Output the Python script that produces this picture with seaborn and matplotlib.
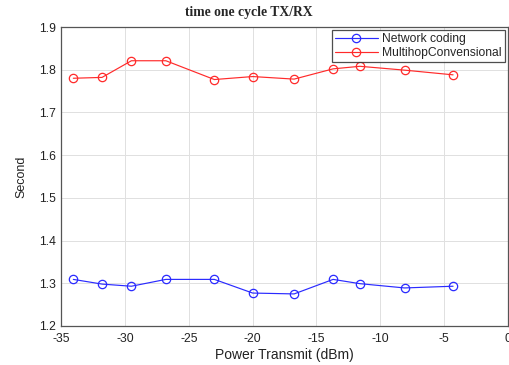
import matplotlib
matplotlib.use("Agg")
import matplotlib.pyplot as plt
import seaborn as sns
import pandas as pd

power = [-34.05, -31.8, -29.5, -26.8, -23.0, -20.0, -16.75, -13.7, -11.6, -8.1, -4.3]
network_coding = [1.309, 1.298, 1.293, 1.309, 1.309, 1.277, 1.275, 1.309, 1.299, 1.289, 1.293]
multihop = [1.780, 1.782, 1.821, 1.821, 1.777, 1.784, 1.778, 1.802, 1.808, 1.799, 1.788]
series_names = ["Network coding", "MultihopConvensional"]
colors = ["#2a2aff", "#ff2a2a"]

sns.set_theme(style="whitegrid")
plt.rcParams['font.family'] = ['Liberation Sans', 'DejaVu Sans']

fig = plt.figure(figsize=(5.1, 3.65), dpi=100)
ax = fig.add_axes([0.12, 0.107, 0.876, 0.819])

for vals, name, c in zip([network_coding, multihop], series_names, colors):
    df = pd.DataFrame({"x": power, "y": vals})
    sns.lineplot(data=df, x="x", y="y", ax=ax, color=c, lw=0.85, marker="o",
                 markersize=6, markerfacecolor="none", markeredgecolor=c,
                 markeredgewidth=0.9, label=name)

ax.set_xlim(-35, 0)
ax.set_ylim(1.2, 1.9)
ax.set_xticks([-35, -30, -25, -20, -15, -10, -5, 0])
ax.set_yticks([1.2, 1.3, 1.4, 1.5, 1.6, 1.7, 1.8, 1.9])
ax.set_xticklabels(["-35", "-30", "-25", "-20", "-15", "-10", "-5", "0"])
ax.set_yticklabels(["1.2", "1.3", "1.4", "1.5", "1.6", "1.7", "1.8", "1.9"])
ax.tick_params(labelsize=8.8, colors="#222222", direction="in", length=3)
ax.tick_params(axis="x", pad=5)
ax.tick_params(axis="y", pad=4)
ax.grid(True, color="#e0e0e0", lw=0.7)
for s in ax.spines.values():
    s.set_color("#555555")
    s.set_linewidth(0.9)
ax.set_xlabel("Power Transmit (dBm)", fontsize=10, labelpad=2, color="#222222")
ax.set_ylabel("Second", fontsize=9, labelpad=8, color="#222222")
ax.set_title("time one cycle TX/RX", fontsize=9.8, fontweight="bold",
             family=["Liberation Serif", "DejaVu Serif"], pad=8, x=0.42)

leg = ax.legend(loc="upper right", fontsize=8.7, frameon=True, fancybox=False,
                edgecolor="#222222", borderaxespad=0.25, handlelength=3.6,
                borderpad=0.25, labelspacing=0.15, handletextpad=0.35)
leg.get_frame().set_linewidth(0.9)

fig.savefig("out.png", dpi=100, facecolor="white")
